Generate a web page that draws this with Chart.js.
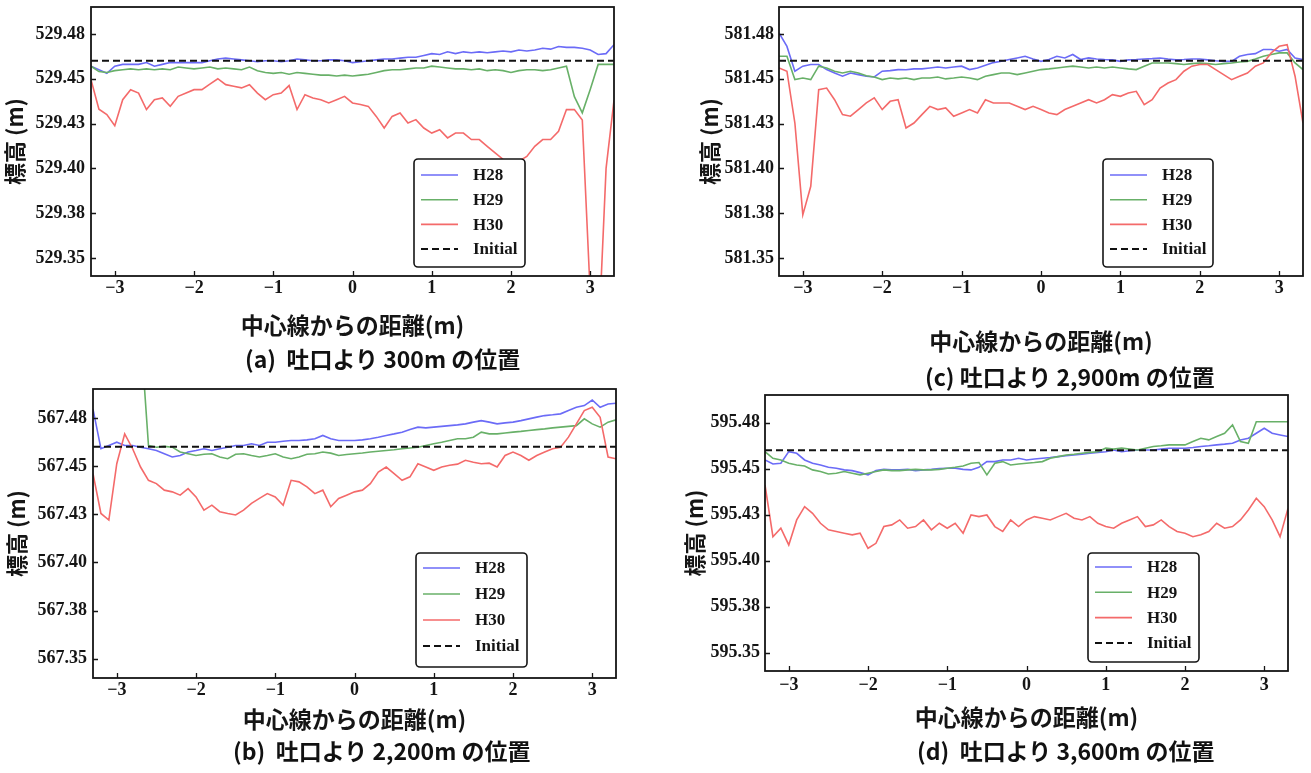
<!DOCTYPE html>
<html><head><meta charset="utf-8">
<script src="https://cdn.jsdelivr.net/npm/chart.js@4/dist/chart.umd.min.js"></script>
<style>
html,body{margin:0;padding:0;background:#fff;}
body{width:1311px;height:773px;position:relative;overflow:hidden;}
canvas{position:absolute;}
.cap{position:absolute;font-family:"Noto Sans CJK JP";font-weight:bold;font-size:23px;line-height:1;white-space:pre;color:#111;}
</style></head><body>
<canvas id="ca" width="640" height="345" style="left:0px;top:0px"></canvas>
<canvas id="cc" width="621" height="360" style="left:690px;top:0px"></canvas>
<canvas id="cb" width="640" height="360" style="left:0px;top:380px"></canvas>
<canvas id="cd" width="631" height="360" style="left:680px;top:380px"></canvas>
<div class="cap" style="left:245px;top:347px">(a)  吐口より 300m の位置</div>
<div class="cap" style="left:925px;top:365px">(c) 吐口より 2,900m の位置</div>
<div class="cap" style="left:233px;top:739px">(b)  吐口より 2,200m の位置</div>
<div class="cap" style="left:917px;top:739px">(d)  吐口より 3,600m の位置</div>
<script>
// distance from centre line (m)
const distance = [-3.3,-3.2,-3.1,-3.0,-2.9,-2.8,-2.7,-2.6,-2.5,-2.4,
  -2.3,-2.2,-2.1,-2.0,-1.9,-1.8,-1.7,-1.6,-1.5,-1.4,
  -1.3,-1.2,-1.1,-1.0,-0.9,-0.8,-0.7,-0.6,-0.5,-0.4,
  -0.3,-0.2,-0.1,0.0,0.1,0.2,0.3,0.4,0.5,0.6,
  0.7,0.8,0.9,1.0,1.1,1.2,1.3,1.4,1.5,1.6,
  1.7,1.8,1.9,2.0,2.1,2.2,2.3,2.4,2.5,2.6,
  2.7,2.8,2.9,3.0,3.1,3.2,3.3];
const seriesNames = ['H28','H29','H30','Initial'];
const initialX = [-3.3, 3.3];
const xTickValues = [-3,-2,-1,0,1,2,3];
const xTickLabels = ['\u22123','\u22122','\u22121','0','1','2','3'];

// (a) 300 m
const aH28 = [529.457,529.455,529.453,529.457,529.458,529.458,529.458,529.459,529.457,529.458,
  529.459,529.459,529.459,529.459,529.459,529.460,529.461,529.4615,529.461,529.4605,
  529.460,529.4595,529.460,529.460,529.4595,529.460,529.461,529.4605,529.460,529.460,
  529.4605,529.4605,529.460,529.459,529.4595,529.460,529.4605,529.461,529.461,529.4615,
  529.462,529.462,529.463,529.464,529.4635,529.465,529.464,529.465,529.4645,529.465,
  529.4645,529.465,529.4655,529.465,529.466,529.4655,529.466,529.467,529.4665,529.468,
  529.4675,529.4675,529.467,529.466,529.4635,529.464,529.469];
const aH29 = [529.457,529.454,529.4535,529.4545,529.455,529.4555,529.455,529.4555,529.455,529.4555,
  529.455,529.4565,529.456,529.4555,529.456,529.4565,529.4555,529.456,529.4555,529.455,
  529.4565,529.4545,529.4535,529.453,529.4535,529.4525,529.4535,529.453,529.4525,529.452,
  529.452,529.4515,529.452,529.4515,529.452,529.4525,529.4535,529.4545,529.455,529.455,
  529.4555,529.456,529.456,529.457,529.4565,529.456,529.4555,529.4555,529.455,529.4555,
  529.4545,529.455,529.4545,529.4535,529.4545,529.455,529.455,529.4545,529.455,529.456,
  529.457,529.440,529.431,529.444,529.458,529.458,529.458];
const aH30 = [529.4495,529.433,529.430,529.4238,529.4383,529.4439,529.442,529.4328,529.4383,529.4393,
  529.4346,529.4402,529.442,529.4439,529.4439,529.447,529.450,529.4467,529.4458,529.4449,
  529.4467,529.442,529.4383,529.4411,529.442,529.4462,529.4328,529.4411,529.4393,529.4383,
  529.4365,529.4383,529.4402,529.4365,529.4356,529.4346,529.429,529.4225,529.429,529.4309,
  529.4253,529.4272,529.4225,529.4197,529.4216,529.417,529.4197,529.4197,529.4161,529.4161,
  529.4123,529.4086,529.405,529.403,529.404,529.4067,529.4123,529.4161,529.4161,529.4207,
  529.4328,529.4328,529.427,529.33,529.30,529.40,529.438];
const aInitial = [529.46, 529.46];
const aYTicks = [529.35,529.375,529.40,529.425,529.45,529.475];
const aYLabels = ['529.35','529.38','529.40','529.43','529.45','529.48'];

// (c) 2,900 m
const cH28 = [581.4755,581.468,581.4542,581.457,581.4579,581.4579,581.4551,581.4532,581.4514,581.4532,
  581.4523,581.4514,581.451,581.4542,581.4545,581.4551,581.455,581.4555,581.4555,581.456,
  581.4565,581.456,581.4565,581.457,581.4551,581.456,581.4575,581.459,581.4597,581.4607,
  581.4616,581.4625,581.461,581.4597,581.4607,581.4625,581.4616,581.4635,581.4607,581.4616,
  581.461,581.4607,581.4605,581.4597,581.4605,581.4607,581.461,581.4612,581.4616,581.461,
  581.4605,581.4607,581.461,581.461,581.4605,581.46,581.4597,581.4597,581.4625,581.4635,
  581.464,581.4663,581.4663,581.4653,581.4663,581.4616,581.4607];
const cH29 = [581.4625,581.4625,581.4495,581.4504,581.4495,581.457,581.456,581.4542,581.4532,581.4542,
  581.4532,581.4517,581.451,581.4495,581.4504,581.4499,581.4504,581.4495,581.4504,581.4504,
  581.451,581.4499,581.4504,581.451,581.4504,581.4495,581.4514,581.4523,581.4532,581.4532,
  581.4523,581.4532,581.4542,581.4551,581.4555,581.456,581.4565,581.457,581.4565,581.456,
  581.4565,581.456,581.4565,581.456,581.4555,581.4551,581.457,581.4588,581.4588,581.4588,
  581.4584,581.4579,581.4584,581.4588,581.4584,581.4579,581.4584,581.4588,581.4593,581.4597,
  581.461,581.4625,581.4635,581.4644,581.4644,581.4588,581.4551];
const cH30 = [581.456,581.4542,581.4253,581.3741,581.390,581.4439,581.4448,581.4383,581.430,581.4291,
  581.4328,581.4365,581.4393,581.4328,581.4374,581.4383,581.4225,581.4253,581.430,581.4346,
  581.4328,581.4337,581.4291,581.4309,581.4328,581.4309,581.4383,581.4365,581.4365,581.4365,
  581.4346,581.4328,581.4346,581.4328,581.4309,581.430,581.4328,581.4346,581.4365,581.4383,
  581.4365,581.4383,581.4411,581.4402,581.4421,581.443,581.4355,581.4383,581.4448,581.4476,
  581.4495,581.4542,581.457,581.4579,581.4579,581.4551,581.4523,581.4495,581.4514,581.4532,
  581.457,581.4588,581.4644,581.4681,581.469,581.4514,581.4253];
const cInitial = [581.46, 581.46];
const cYTicks = [581.35,581.375,581.40,581.425,581.45,581.475];
const cYLabels = ['581.35','581.38','581.40','581.43','581.45','581.48'];

// (b) 2,200 m
const bH28 = [567.4796,567.459,567.4607,567.4624,567.4607,567.4607,567.4598,567.459,567.4581,567.4564,
  567.4547,567.4555,567.4573,567.4581,567.459,567.4581,567.459,567.4598,567.4607,567.4607,
  567.4616,567.4607,567.4624,567.4624,567.4629,567.4633,567.4633,567.4636,567.4642,567.4659,
  567.4642,567.4633,567.4633,567.4633,567.4636,567.4642,567.465,567.4659,567.4667,567.4676,
  567.469,567.4702,567.4698,567.4702,567.4706,567.471,567.4714,567.4719,567.4728,567.4736,
  567.4728,567.4719,567.4724,567.4728,567.4736,567.4745,567.4754,567.4762,567.4766,567.4771,
  567.4788,567.4805,567.4814,567.4843,567.4805,567.4822,567.4826];
const bH29 = [567.52,567.52,567.52,567.52,567.52,567.52,567.52,567.4607,567.4598,567.4602,
  567.4598,567.4573,567.4564,567.4555,567.4561,567.4564,567.4547,567.4538,567.4561,567.4564,
  567.4555,567.4547,567.4555,567.4564,567.4547,567.4538,567.4547,567.4561,567.4564,567.4573,
  567.4567,567.4555,567.456,567.4564,567.4568,567.4573,567.4577,567.4581,567.4585,567.459,
  567.4594,567.4598,567.4607,567.4616,567.4624,567.4633,567.4642,567.4642,567.465,567.4676,
  567.4667,567.4667,567.4672,567.4676,567.468,567.4685,567.4689,567.4693,567.4698,567.4702,
  567.4706,567.471,567.4745,567.4719,567.4702,567.4728,567.474];
const bH30 = [567.4461,567.4254,567.422,567.4512,567.4667,567.459,567.4495,567.4426,567.4409,567.4375,
  567.4366,567.4349,567.4383,567.434,567.4271,567.4297,567.4263,567.4254,567.4246,567.4271,
  567.4306,567.4332,567.4357,567.434,567.4297,567.4426,567.4418,567.4392,567.4357,567.4375,
  567.4289,567.4332,567.4349,567.4366,567.4375,567.4409,567.4469,567.4495,567.4461,567.4426,
  567.4444,567.4512,567.4495,567.4478,567.4495,567.4504,567.451,567.453,567.452,567.4512,
  567.4515,567.4495,567.4555,567.4573,567.4555,567.453,567.4555,567.4573,567.459,567.4598,
  567.465,567.4719,567.4788,567.4805,567.4753,567.4547,567.4538];
const bInitial = [567.46, 567.46];
const bYTicks = [567.35,567.375,567.40,567.425,567.45,567.475];
const bYLabels = ['567.35','567.38','567.40','567.43','567.45','567.48'];

// (d) 3,600 m
const dH28 = [595.4547,595.4525,595.4529,595.4592,595.4583,595.4547,595.4529,595.452,595.4507,595.4502,
  595.4493,595.4489,595.4478,595.4466,595.4489,595.4496,595.4493,595.4493,595.4496,595.4489,
  595.4493,595.4496,595.45,595.4502,595.4502,595.4496,595.4493,595.4507,595.4538,595.4538,
  595.4547,595.4547,595.4556,595.4547,595.4552,595.4556,595.456,595.4565,595.457,595.4574,
  595.4578,595.4583,595.4588,595.4592,595.4601,595.4592,595.4597,595.4601,595.4601,595.4601,
  595.4606,595.4611,595.4611,595.4611,595.4615,595.462,595.4624,595.4629,595.4633,595.4638,
  595.4656,595.4665,595.4692,595.4719,595.4692,595.4683,595.4674];
const dH29 = [595.4592,595.4556,595.4547,595.4529,595.452,595.4514,595.4493,595.4484,595.4471,595.4475,
  595.4484,595.4475,595.4466,595.4475,595.4484,595.4493,595.4489,595.4489,595.4493,595.4496,
  595.4493,595.4493,595.4496,595.4502,595.4507,595.4514,595.4529,595.4533,595.4466,595.4529,
  595.4538,595.452,595.4525,595.4529,595.4533,595.4538,595.4556,595.4565,595.4574,595.4578,
  595.4583,595.4588,595.4592,595.4611,595.4606,595.4611,595.4606,595.4601,595.4611,595.462,
  595.4624,595.4629,595.4629,595.4629,595.4647,595.4665,595.4656,595.4674,595.4692,595.4737,
  595.4647,595.4638,595.4755,595.4755,595.4755,595.4755,595.4755];
const dH30 = [595.4411,595.413,595.4176,595.4085,595.4221,595.4293,595.4257,595.4203,595.4167,595.4158,
  595.4149,595.414,595.4149,595.4067,595.4094,595.4185,595.4194,595.4221,595.4176,595.4185,
  595.4221,595.4167,595.4203,595.4176,595.4203,595.4149,595.4248,595.4239,595.4248,595.4185,
  595.4158,595.4221,595.4185,595.4221,595.4239,595.423,595.4221,595.4239,595.4257,595.423,
  595.4221,595.4239,595.4203,595.4185,595.4176,595.4203,595.4221,595.4239,595.4185,595.4194,
  595.4221,595.4185,595.4158,595.4149,595.413,595.414,595.4158,595.4203,595.4176,595.4185,
  595.4221,595.4275,595.4339,595.4293,595.4221,595.413,595.4284];
const dInitial = [595.46, 595.46];
const dYTicks = [595.35,595.375,595.40,595.425,595.45,595.475];
const dYLabels = ['595.35','595.38','595.40','595.43','595.45','595.48'];

const xTitle = '中心線からの距離(m)';
const yTitle = '標高 (m)';
const INK = '#151515';
const SERIF = '"Liberation Serif", "Times New Roman", serif';
const GOTHIC = '"Noto Sans CJK JP", sans-serif';

const framePlugin = {
  id: 'frameTicks',
  afterDatasetsDraw(chart) {
    const {ctx, chartArea: a, scales: {x, y}} = chart;
    ctx.save();
    ctx.strokeStyle = INK;
    ctx.lineWidth = 1.3;
    ctx.beginPath();
    x.ticks.forEach(t => { const px = Math.round(x.getPixelForValue(t.value)) + 0.5; ctx.moveTo(px, a.bottom); ctx.lineTo(px, a.bottom - 5); });
    y.ticks.forEach(t => { const py = Math.round(y.getPixelForValue(t.value)) + 0.5; ctx.moveTo(a.left, py); ctx.lineTo(a.left + 5, py); });
    ctx.stroke();
    ctx.lineWidth = 1.8;
    ctx.strokeRect(a.left, a.top, a.right - a.left, a.bottom - a.top);
    ctx.restore();
  }
};

const boxLegendPlugin = {
  id: 'boxLegend',
  afterDraw(chart, args, o) {
    const ctx = chart.ctx;
    ctx.save();
    ctx.beginPath();
    if (ctx.roundRect) ctx.roundRect(o.x, o.y, o.w, o.h, 4); else ctx.rect(o.x, o.y, o.w, o.h);
    ctx.fillStyle = '#fff';
    ctx.fill();
    ctx.lineWidth = 1.6;
    ctx.strokeStyle = INK;
    ctx.stroke();
    seriesNames.forEach((name, i) => {
      const ds = chart.data.datasets.find(d => d.label === name);
      const yy = o.row0 + i * o.gap;
      ctx.beginPath();
      ctx.setLineDash(ds.borderDash || []);
      ctx.strokeStyle = ds.borderColor;
      ctx.lineWidth = ds.borderWidth;
      ctx.moveTo(o.x + 7, yy);
      ctx.lineTo(o.x + 44, yy);
      ctx.stroke();
      ctx.setLineDash([]);
      ctx.fillStyle = INK;
      ctx.font = 'bold 17px ' + SERIF;
      ctx.textBaseline = 'middle';
      ctx.textAlign = 'left';
      ctx.fillText(name, o.x + 59, yy + 1);
    });
    ctx.restore();
  }
};

function makePanel(id, p) {
  const base = {borderWidth: 1.6, pointRadius: 0, fill: false, tension: 0, clip: 0};
  const datasets = [
    Object.assign({}, base, {label: 'H28', data: distance.map((x, i) => ({x, y: p.h28[i]})), borderColor: '#6b6bf7', order: 3}),
    Object.assign({}, base, {label: 'H29', data: distance.map((x, i) => ({x, y: p.h29[i]})), borderColor: '#68b068', order: 2}),
    Object.assign({}, base, {label: 'H30', data: distance.map((x, i) => ({x, y: p.h30[i]})), borderColor: '#f46a6a', order: 1}),
    Object.assign({}, base, {label: 'Initial', data: initialX.map((x, i) => ({x, y: p.init[i]})), borderColor: '#111', borderDash: [7, 4], borderWidth: 2, order: 0})
  ];
  new Chart(document.getElementById(id), {
    type: 'line',
    data: {datasets},
    options: {
      responsive: false, animation: false, devicePixelRatio: 1,
      layout: {padding: p.pad},
      plugins: {legend: {display: false}, tooltip: {enabled: false}, boxLegend: p.legend},
      scales: {
        x: {
          type: 'linear', min: -3.3, max: 3.3,
          grid: {display: false, drawTicks: false}, border: {display: false},
          afterBuildTicks: s => { s.ticks = xTickValues.map(v => ({value: v})); },
          ticks: {autoSkip: false, maxRotation: 0, padding: p.xTickPad, color: INK,
            font: {family: SERIF, size: 18, weight: 'bold'},
            callback: (v, i) => xTickLabels[i]},
          title: {display: true, text: xTitle, color: INK,
            font: {family: GOTHIC, size: 23, weight: 'bold'},
            padding: {top: 0, bottom: p.xTitlePad}},
          afterFit: s => { s.height = p.xH; s.paddingLeft = 0; s.paddingRight = 0; }
        },
        y: {
          type: 'linear', min: p.ymin, max: p.ymax,
          grid: {display: false, drawTicks: false}, border: {display: false},
          afterBuildTicks: s => { s.ticks = p.yTicks.map(v => ({value: v})); },
          ticks: {autoSkip: false, padding: p.yTickPad, color: INK,
            font: {family: SERIF, size: 18, weight: 'bold'},
            callback: (v, i) => p.yLabels[i]},
          title: {display: true, text: yTitle, color: INK,
            font: {family: GOTHIC, size: 22, weight: 'bold'},
            padding: {top: p.yTitlePad, bottom: 0}},
          afterFit: s => { s.width = p.yW; s.paddingTop = 0; s.paddingBottom = 0; }
        }
      }
    },
    plugins: [framePlugin, boxLegendPlugin]
  });
}

makePanel('ca', {h28: aH28, h29: aH29, h30: aH30, init: aInitial, yTicks: aYTicks, yLabels: aYLabels,
  ymin: 529.34, ymax: 529.49, pad: {left: 0, top: 7, right: 26, bottom: 0}, yW: 91, xH: 69,
  xTitlePad: 5.8, yTitlePad: 1.8, xTickPad: 2, yTickPad: 6,
  legend: {x: 414, y: 159, w: 111, h: 108, row0: 175, gap: 24.7}});
makePanel('cc', {h28: cH28, h29: cH29, h30: cH30, init: cInitial, yTicks: cYTicks, yLabels: cYLabels,
  ymin: 581.34, ymax: 581.49, pad: {left: 0, top: 7, right: 8, bottom: 0}, yW: 89, xH: 84,
  xTitlePad: 4.8, yTitlePad: 6.8, xTickPad: 2, yTickPad: 5,
  legend: {x: 413, y: 159, w: 110, h: 108, row0: 175, gap: 24.7}});
makePanel('cb', {h28: bH28, h29: bH29, h30: bH30, init: bInitial, yTicks: bYTicks, yLabels: bYLabels,
  ymin: 567.34, ymax: 567.49, pad: {left: 0, top: 9, right: 24, bottom: 0}, yW: 93, xH: 62,
  xTitlePad: 6.8, yTitlePad: 3.8, xTickPad: 2, yTickPad: 6,
  legend: {x: 416, y: 173, w: 111, h: 114, row0: 188, gap: 26}});
makePanel('cd', {h28: dH28, h29: dH29, h30: dH30, init: dInitial, yTicks: dYTicks, yLabels: dYLabels,
  ymin: 595.34, ymax: 595.49, pad: {left: 0, top: 15, right: 23, bottom: 0}, yW: 85, xH: 69,
  xTitlePad: 8.8, yTitlePad: 1.8, xTickPad: 4, yTickPad: 5,
  legend: {x: 408, y: 173, w: 111, h: 109, row0: 187, gap: 25.3}});
</script>
</body></html>
